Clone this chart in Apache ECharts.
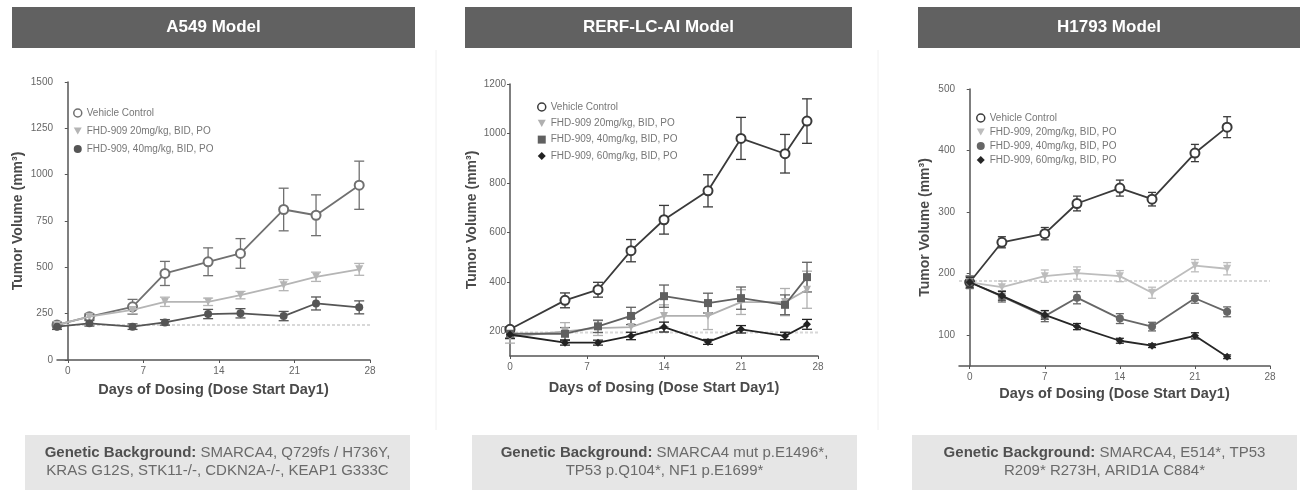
<!DOCTYPE html>
<html>
<head>
<meta charset="utf-8">
<script src="https://cdn.jsdelivr.net/npm/echarts@6/dist/echarts.min.js"></script>
<style>
html,body{margin:0;padding:0;background:#fff;}
#c{width:1305px;height:490px;}
</style>
</head>
<body>
<div id="c"></div>
<script>
// ---------- data ----------
const panelTitles = ['A549 Model', 'RERF-LC-AI Model', 'H1793 Model'];
const geneticText = [
  ['SMARCA4, Q729fs / H736Y,', 'KRAS G12S, STK11-/-, CDKN2A-/-, KEAP1 G333C'],
  ['SMARCA4 mut p.E1496*,', 'TP53 p.Q104*, NF1 p.E1699*'],
  ['SMARCA4, E514*, TP53', 'R209* R273H, ARID1A C884*']
];
const xTicks = [0, 7, 14, 21, 28];
const yTicks1 = [0, 250, 500, 750, 1000, 1250, 1500];
const yTicks2 = [200, 400, 600, 800, 1000, 1200];
const yTicks3 = [100, 200, 300, 400, 500];
const refLevel = [189, 195, 188];

// Panel 1 : A549
const names1 = ['Vehicle Control', 'FHD-909 20mg/kg, BID, PO', 'FHD-909, 40mg/kg, BID, PO'];
const days1 = [-1, 2, 6, 9, 13, 16, 20, 23, 27];
const veh1 = [189, 234, 287, 467, 530, 575, 812, 781, 943];
const vehErr1 = [15, 15, 40, 65, 75, 80, 115, 110, 130];
const d20_1 = [189, 234, 270, 314, 314, 350, 404, 449, 489];
const d20Err1 = [15, 15, 20, 25, 20, 20, 30, 25, 32];
const d40_1 = [180, 198, 180, 203, 248, 252, 237, 305, 284];
const d40Err1 = [15, 15, 15, 15, 25, 25, 25, 35, 35];

// Panel 2 : RERF-LC-AI
const names2 = ['Vehicle Control', 'FHD-909 20mg/kg, BID, PO', 'FHD-909, 40mg/kg, BID, PO', 'FHD-909, 60mg/kg, BID, PO'];
const days2 = [0, 5, 8, 11, 14, 18, 21, 25, 27];
const veh2 = [208, 325, 368, 526, 651, 768, 980, 918, 1050];
const vehErr2 = [10, 30, 30, 45, 58, 65, 85, 78, 90];
const d20_2 = [177, 200, 213, 217, 262, 262, 318, 318, 368];
const d20Err2 = [25, 35, 30, 35, 45, 55, 50, 55, 75];
const d40_2 = [190, 190, 220, 262, 342, 314, 334, 307, 419];
const d40Err2 = [20, 25, 25, 35, 45, 40, 45, 40, 60];
const d60_2 = [187, 154, 154, 181, 217, 157, 208, 181, 228];
const d60Err2 = [15, 10, 10, 15, 20, 10, 15, 15, 20];

// Panel 3 : H1793
const names3 = ['Vehicle Control', 'FHD-909, 20mg/kg, BID, PO', 'FHD-909, 40mg/kg, BID, PO', 'FHD-909, 60mg/kg, BID, PO'];
const days3 = [0, 3, 7, 10, 14, 17, 21, 24];
const veh3 = [186, 251, 265, 314, 339, 321, 396, 438];
const vehErr3 = [10, 9, 10, 12, 13, 11, 14, 17];
const d20_3 = [186, 178, 196, 201, 196, 169, 213, 208];
const d20Err3 = [10, 10, 10, 10, 9, 9, 10, 10];
const d40_3 = [186, 163, 131, 161, 127, 114, 160, 138];
const d40Err3 = [10, 9, 9, 10, 8, 7, 8, 8];
const d60_3 = [186, 164, 133, 114, 91, 83, 99, 65];
const d60Err3 = [8, 7, 7, 5, 4, 3, 5, 3];

// ---------- styling ----------
const FONT = '"Liberation Sans", Arial, sans-serif';
const invTri = 'path://M0,0 L10,0 L5,9 Z';
const panels = [
  {
    grid: {left: 57, top: 82, width: 313, height: 278},
    xMin: -1, xMax: 28, yMin: 0, yMax: 1500, yTicks: yTicks1, yNameGap: 32, xNameGap: 22,
    days: days1, names: names1,
    vals: [veh1, d20_1, d40_1], errs: [vehErr1, d20Err1, d40Err1],
    colors: ['#707070', '#b5b5b5', '#555555'],
    symbols: ['emptyCircle', invTri, 'circle'],
    capHalf: 5,
    legend: {left: 73, top: 107, itemGap: 6}
  },
  {
    grid: {left: 510, top: 84, width: 308, height: 272},
    xMin: 0, xMax: 28, yMin: 100, yMax: 1200, yTicks: yTicks2, yNameGap: 31, xNameGap: 24,
    days: days2, names: names2,
    vals: [veh2, d20_2, d40_2, d60_2], errs: [vehErr2, d20Err2, d40Err2, d60Err2],
    colors: ['#3a3a3a', '#b0b0b0', '#606060', '#222222'],
    symbols: ['emptyCircle', invTri, 'rect', 'diamond'],
    capHalf: 5,
    legend: {left: 537, top: 101, itemGap: 4.3}
  },
  {
    grid: {left: 959, top: 89, width: 311, height: 277},
    xMin: -1, xMax: 28, yMin: 50, yMax: 500, yTicks: yTicks3, yNameGap: 27, xNameGap: 19,
    days: days3, names: names3,
    vals: [veh3, d20_3, d40_3, d60_3], errs: [vehErr3, d20Err3, d40Err3, d60Err3],
    colors: ['#3a3a3a', '#bdbdbd', '#666666', '#262626'],
    symbols: ['emptyCircle', invTri, 'circle', 'diamond'],
    capHalf: 4,
    legend: {left: 976, top: 112, itemGap: 2}
  }
];

const grids = [], xAxes = [], yAxes = [], series = [], legends = [];

panels.forEach((p, pi) => {
  grids.push(p.grid);
  xAxes.push({
    type: 'value', gridIndex: pi, min: p.xMin, max: p.xMax,
    name: 'Days of Dosing (Dose Start Day1)', nameLocation: 'middle', nameGap: p.xNameGap,
    nameTextStyle: {fontFamily: FONT, fontWeight: 'bold', fontSize: 14.5, color: '#4a4a4a'},
    axisLine: {show: true, lineStyle: {color: '#555', width: 1.5}},
    axisTick: {show: true, length: 3, lineStyle: {color: '#555'}, customValues: xTicks},
    axisLabel: {fontFamily: FONT, fontSize: 10, color: '#666', margin: 6, customValues: xTicks,
      formatter: v => String(v)},
    splitLine: {show: false}
  });
  yAxes.push({
    type: 'value', gridIndex: pi, min: p.yMin, max: p.yMax,
    name: 'Tumor Volume (mm³)', nameLocation: 'middle', nameGap: p.yNameGap, nameRotate: 90,
    nameTextStyle: {fontFamily: FONT, fontWeight: 'bold', fontSize: 14, color: '#4a4a4a'},
    axisLine: {show: true, lineStyle: {color: '#555', width: 1.5}},
    axisTick: {show: true, length: 3, lineStyle: {color: '#555'}, customValues: p.yTicks},
    axisLabel: {fontFamily: FONT, fontSize: 10, color: '#666', margin: 4, customValues: p.yTicks,
      formatter: v => String(v)},
    splitLine: {show: false}
  });

  // reference (baseline) line
  series.push({
    type: 'line', name: 'ref' + pi, xAxisIndex: pi, yAxisIndex: pi,
    data: [[p.xMin, refLevel[pi]], [p.xMax, refLevel[pi]]],
    symbol: 'none', silent: true, z: 1,
    lineStyle: {color: '#d8d8d8', width: 2, type: [3, 2]}
  });

  const legendData = [];
  p.names.forEach((nm, si) => {
    const col = p.colors[si];
    const vals = p.vals[si], errs = p.errs[si];
    const pts = p.days.map((d, i) => [d, vals[i]]);
    const errPts = p.days.map((d, i) => [d, vals[i], errs[i]]);
    series.push({
      type: 'custom', name: 'err' + pi + '_' + si, xAxisIndex: pi, yAxisIndex: pi,
      data: errPts, z: 2, silent: true,
      renderItem: function (params, api) {
        const x = api.value(0), y = api.value(1), e = api.value(2);
        const t = api.coord([x, y + e]);
        const b = api.coord([x, y - e]);
        const h = p.capHalf;
        const st = {stroke: col, lineWidth: 1.3};
        return {type: 'group', children: [
          {type: 'line', shape: {x1: t[0], y1: t[1], x2: b[0], y2: b[1]}, style: st},
          {type: 'line', shape: {x1: t[0] - h, y1: t[1], x2: t[0] + h, y2: t[1]}, style: st},
          {type: 'line', shape: {x1: b[0] - h, y1: b[1], x2: b[0] + h, y2: b[1]}, style: st}
        ]};
      }
    });
    series.push({
      type: 'line', name: nm, xAxisIndex: pi, yAxisIndex: pi,
      data: pts, z: 3 + si,
      symbol: p.symbols[si], symbolSize: si === 0 ? 9 : 8, showAllSymbol: true,
      lineStyle: {color: col, width: 1.8},
      itemStyle: {color: col, borderColor: col, borderWidth: si === 0 ? 1.5 : 0}
    });
    legendData.push({
      name: nm, icon: si === 0 ? 'circle' : p.symbols[si],
      itemStyle: si === 0 ? {color: '#ffffff', borderColor: col, borderWidth: 1.5} : {color: col, borderWidth: 0}
    });
  });
  legends.push({
    orient: 'vertical', left: p.legend.left, top: p.legend.top, padding: 0,
    itemWidth: 8, itemHeight: 8, itemGap: p.legend.itemGap, selectedMode: false,
    textStyle: {fontFamily: FONT, fontSize: 10, color: '#777', lineHeight: 12},
    data: legendData
  });
});

// ---------- decorations ----------
const titleBoxes = [[12, 403], [465, 387], [918, 382]];
const genBoxes = [[25, 385], [472, 385], [912, 385]];
const graphics = [];
[436, 878].forEach(x => graphics.push({type: 'line', shape: {x1: x, y1: 50, x2: x, y2: 430}, style: {stroke: '#f0f0f0', lineWidth: 1}, silent: true}));
titleBoxes.forEach((b, i) => {
  graphics.push({type: 'rect', shape: {x: b[0], y: 7, width: b[1], height: 41}, style: {fill: '#616161'}, silent: true});
  graphics.push({type: 'text', x: b[0] + b[1] / 2, y: 27.5, silent: true,
    style: {text: panelTitles[i], fill: '#ffffff', font: 'bold 17px ' + FONT, align: 'center', verticalAlign: 'middle'}});
});
genBoxes.forEach((b, i) => {
  graphics.push({type: 'rect', shape: {x: b[0], y: 435, width: b[1], height: 55}, style: {fill: '#e6e6e6'}, silent: true});
  graphics.push({type: 'text', x: b[0] + b[1] / 2, y: 462, silent: true,
    style: {
      text: '{b|Genetic Background:} ' + geneticText[i][0] + '\n' + geneticText[i][1],
      fill: '#6a6a6a', font: '15px ' + FONT, align: 'center', verticalAlign: 'middle', lineHeight: 18,
      rich: {b: {fill: '#505050', font: 'bold 15px ' + FONT, fontWeight: 'bold', fontSize: 15, fontFamily: FONT, lineHeight: 18}}
    }});
});

const chart = echarts.init(document.getElementById('c'), null, {renderer: 'canvas'});
chart.setOption({
  animation: false,
  backgroundColor: '#ffffff',
  grid: grids, xAxis: xAxes, yAxis: yAxes, series: series, legend: legends,
  graphic: graphics
});
</script>
</body>
</html>
